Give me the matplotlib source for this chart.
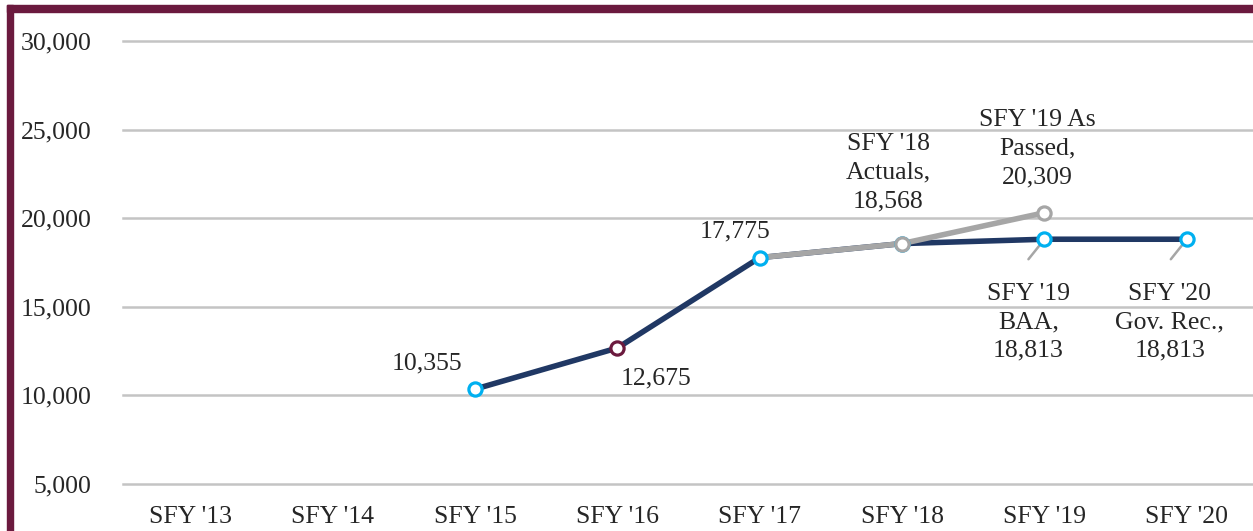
import matplotlib
matplotlib.use("Agg")
import matplotlib.pyplot as plt
from matplotlib.patches import Rectangle

categories = ["SFY '13", "SFY '14", "SFY '15", "SFY '16", "SFY '17", "SFY '18", "SFY '19", "SFY '20"]
main_idx = [2, 3, 4, 5, 6, 7]
main_vals = [10355, 12675, 17775, 18568, 18813, 18813]
passed_idx = [4, 5, 6]
passed_vals = [17775, 18568, 20309]
yticks = [5000, 10000, 15000, 20000, 25000, 30000]

labels = [
    (2, 10355, "10,355", -48, 26),
    (3, 12675, "12,675", 39, -30),
    (4, 17775, "17,775", -25, 26),
    (5, 18568, "SFY '18\nActuals,\n18,568", -14, 71),
    (6, 20309, "SFY '19 As\nPassed,\n20,309", -7, 64),
    (6, 18813, "SFY '19\nBAA,\n18,813", -16, -83),
    (7, 18813, "SFY '20\nGov. Rec.,\n18,813", -17, -83),
]

NAVY = "#203864"
CYAN = "#00B0F0"
MAROON = "#6B1A3E"
GRAY = "#A6A6A6"
FONT = "Liberation Serif"
FS = 18.5

fig = plt.figure(figsize=(12.53, 5.31), dpi=100)
ax = fig.add_axes([0.095, 0.0885, 0.909, 0.8343])
ax.set_xlim(-0.5, 7.5)
ax.set_ylim(5000, 30000)

for y in yticks:
    ax.plot([-0.47, 7.5], [y, y], color="#C4C4C4", lw=1.8, zorder=1, clip_on=False)

ax.plot(main_idx, main_vals, color=NAVY, lw=4.0, zorder=2, solid_capstyle="round")
ax.plot(passed_idx, passed_vals, color=GRAY, lw=4.0, zorder=3, solid_capstyle="round")

for i, v in zip(main_idx, main_vals):
    ec = MAROON if i == 3 else CYAN
    ax.plot([i], [v], "o", ms=9.5, mfc="white", mec=ec, mew=2.3, zorder=4)
for i, v in zip(passed_idx[1:], passed_vals[1:]):
    ax.plot([i], [v], "o", ms=9.5, mfc="white", mec=GRAY, mew=2.3, zorder=5)

for i, v, t, dx, dy in labels:
    ax.annotate(t, xy=(i, v), xytext=(dx, dy), textcoords="offset pixels",
                ha="center", va="center", fontsize=FS, family=FONT,
                color="#262626", linespacing=1.38, zorder=6)

for i, v in [(6, 18813), (7, 18813)]:
    ax.annotate("", xy=(i, v), xytext=(-16, -20), textcoords="offset pixels",
                arrowprops=dict(arrowstyle="-", color=GRAY, lw=1.8,
                                shrinkA=0, shrinkB=2), zorder=3)

ax.set_xticks(range(len(categories)))
ax.set_xticklabels(categories)
ax.set_yticks(yticks)
ax.set_yticklabels([f"{y:,}" for y in yticks])
ax.tick_params(axis="both", length=0, labelsize=FS, labelcolor="#262626")
ax.tick_params(axis="y", pad=20)
ax.tick_params(axis="x", pad=16)
for lab in ax.get_xticklabels() + ax.get_yticklabels():
    lab.set_fontfamily(FONT)
for s in ax.spines.values():
    s.set_visible(False)

fig.patches.append(Rectangle((7 / 1253, 0), 6 / 1253, 526 / 531, transform=fig.transFigure,
                             color=MAROON, zorder=10))
fig.patches.append(Rectangle((7 / 1253, 519 / 531), 1, 7 / 531, transform=fig.transFigure,
                             color=MAROON, zorder=10))

fig.savefig("out.png", dpi=100)
